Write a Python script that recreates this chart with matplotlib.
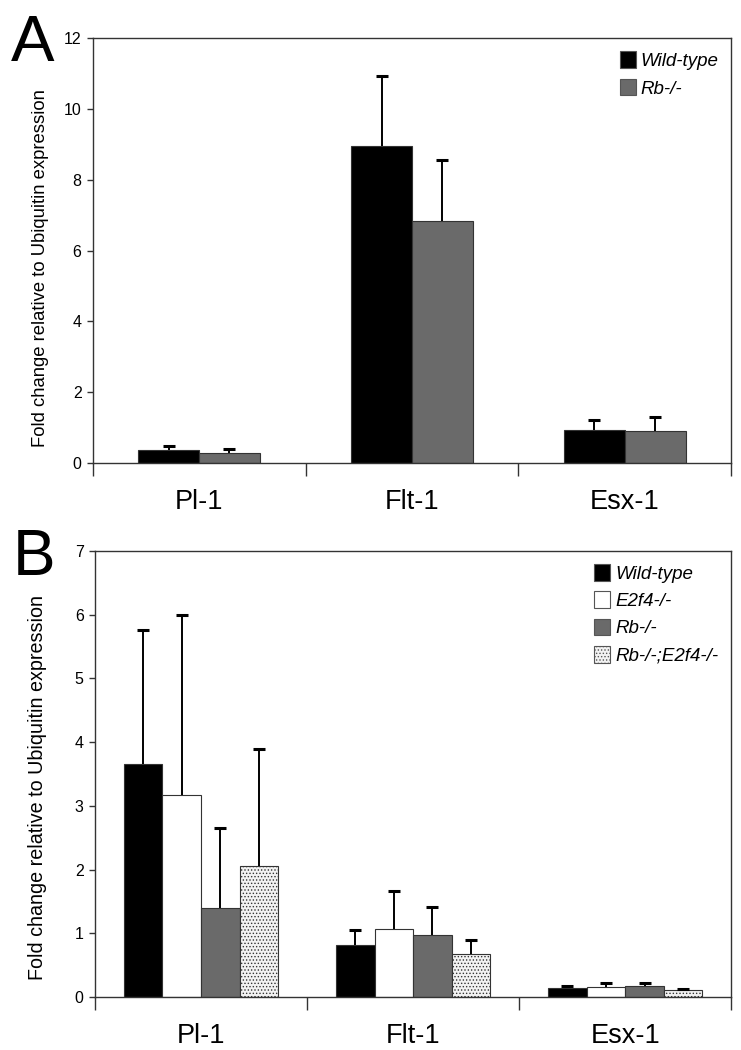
import numpy as np
import matplotlib
matplotlib.use('Agg')
import matplotlib.pyplot as plt
from matplotlib.patches import Patch

plt.rcParams['font.family'] = ['Liberation Sans', 'DejaVu Sans']
plt.rcParams['hatch.color'] = '#888888'
plt.rcParams['hatch.linewidth'] = 0.6

genes = ['Pl-1', 'Flt-1', 'Esx-1']

# panel A
a_series = ['Wild-type', 'Rb-/-']
a_means = [[0.38, 8.95, 0.94],
           [0.29, 6.83, 0.90]]
a_errs = [[0.10, 1.98, 0.29],
          [0.12, 1.74, 0.41]]
a_ticks = [0, 2, 4, 6, 8, 10, 12]

# panel B
b_series = ['Wild-type', 'E2f4-/-', 'Rb-/-', 'Rb-/-;E2f4-/-']
b_means = [[3.66, 0.81, 0.14],
           [3.17, 1.07, 0.16],
           [1.40, 0.98, 0.18],
           [2.05, 0.68, 0.11]]
b_errs = [[2.10, 0.24, 0.03],
          [2.83, 0.60, 0.06],
          [1.25, 0.43, 0.04],
          [1.84, 0.22, 0.02]]
b_ticks = [0, 1, 2, 3, 4, 5, 6, 7]

styles = {'Wild-type': dict(facecolor='black', hatch=None),
          'E2f4-/-': dict(facecolor='white', hatch=None),
          'Rb-/-': dict(facecolor='#6a6a6a', hatch=None),
          'Rb-/-;E2f4-/-': dict(facecolor='#f2f2f2', hatch='.....')}

narrow = ['Liberation Sans Narrow', 'Liberation Sans', 'DejaVu Sans']


def draw_panel(ax, series, means, errs, ticks, label_size, label_xy):
        n = len(series)
        w = 1.0 / (n + 1.5)  # excel style gap width 150%
        x = np.arange(len(genes))
        for i, s in enumerate(series):
                pos = x - w * n / 2 + w * (i + 0.5)
                st = styles[s]
                m = np.array(means[i])
                top = m + np.array(errs[i])
                ax.bar(pos, m, width=w, color=st['facecolor'],
                       edgecolor='#333333', linewidth=0.8, hatch=st['hatch'],
                       zorder=2)
                # upper error bars only
                ax.vlines(pos, m, top, color='black', linewidth=1.4, zorder=3)
                ax.plot(pos, top, linestyle='', marker='_', markersize=8,
                        markeredgewidth=2.2, color='black', zorder=3)
        ax.set_xlim(-0.5, len(genes) - 0.5)
        ax.set_ylim(ticks[0], ticks[-1])
        ax.set_yticks(ticks)
        ax.set_yticklabels([str(t) for t in ticks], fontsize=11.5,
                           family=narrow)
        ax.set_xticks(x)
        ax.set_xticklabels(genes, fontsize=19.5, family=narrow)
        ax.set_xticks(np.arange(len(genes) + 1) - 0.5, minor=True)
        ax.tick_params(axis='x', which='major', length=0, pad=19)
        ax.tick_params(axis='x', which='minor', length=9, width=1,
                       direction='out', color='#333333')
        ax.tick_params(axis='y', length=4, width=1, direction='out',
                       color='#333333', pad=4)
        for sp in ax.spines.values():
                sp.set_color('#333333')
                sp.set_linewidth(1)
        ax.set_ylabel('Fold change relative to Ubiquitin expression',
                      fontsize=label_size)
        ax.yaxis.set_label_coords(*label_xy)
        handles = [Patch(facecolor=styles[s]['facecolor'], edgecolor='#555555',
                         hatch=styles[s]['hatch'], linewidth=0.8) for s in series]
        ax.legend(handles, series, loc='upper right', frameon=False,
                  prop={'family': narrow, 'style': 'italic', 'size': 13.5},
                  handlelength=0.85, handleheight=1.0, handletextpad=0.25,
                  labelspacing=0.45, borderaxespad=0.3)


fig = plt.figure(figsize=(7.41, 10.5), dpi=100)

axA = fig.add_axes([0.125, 0.559, 0.862, 0.4045])
draw_panel(axA, a_series, a_means, a_errs, a_ticks, 13.3, (-0.069, 0.46))

axB = fig.add_axes([0.128, 0.0505, 0.859, 0.4248])
draw_panel(axB, b_series, b_means, b_errs, b_ticks, 14.2, (-0.075, 0.47))

fig.text(0.015, 0.987, 'A', fontsize=47, va='top', ha='left')
fig.text(0.017, 0.497, 'B', fontsize=46, va='top', ha='left')

fig.savefig('out.png', dpi=100)
